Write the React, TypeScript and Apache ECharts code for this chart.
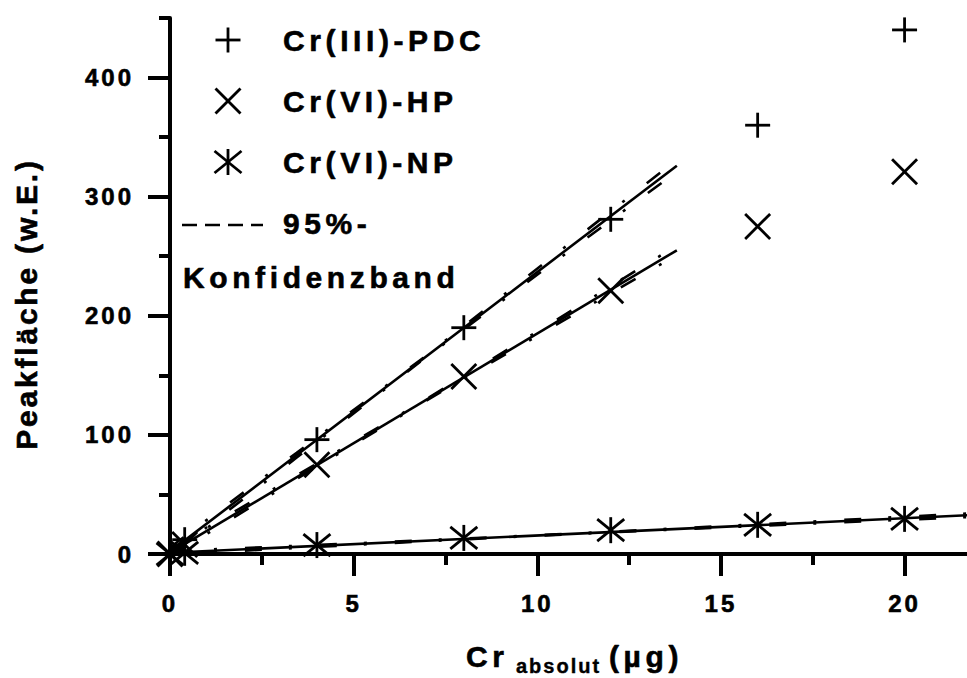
import React, { useEffect, useRef } from 'react';
import * as echarts from 'echarts';

// ---- data ----
const seriesNames = ['Cr(III)-PDC', 'Cr(VI)-HP', 'Cr(VI)-NP'];
const xValues = [0, 0.4, 4, 8, 12, 16, 20];
const pdcValues = [0, 12, 96, 190, 281, 360, 440];
const hpValues = [0, 8, 75, 149, 221, 275, 321];
const npValues = [0, 1, 7.5, 13.5, 20, 24.5, 29.5];

const pdcFitX = [0, 13.8];
const pdcFitY = [2, 326];
const hpFitX = [0, 13.8];
const hpFitY = [1, 255];
const npFitX = [0, 21.7];
const npFitY = [1, 32.5];

const bandXShort = [0, 3.45, 6.9, 10.35, 13.8];
const pdcUpper = [5.5, 85, 164.8, 248, 331];
const pdcLower = [-1.5, 81, 163.5, 242.5, 321];
const hpUpper = [4, 66, 128.6, 193.3, 259];
const hpLower = [-2, 63, 127.4, 189.5, 251];
const bandXLong = [0, 5.4, 10.85, 16.3, 21.7];
const npUpper = [2.4, 9.4, 17.0, 25.4, 34];
const npLower = [-0.4, 8.2, 16.6, 24.0, 31];

const xTicks = [0, 5, 10, 15, 20];
const yTicks = [0, 100, 200, 300, 400];
const bandLabel = ['95%-', 'Konfidenzband'];
const xTitleParts = ['Cr', 'absolut', '(µg)'];
const yTitle = 'Peakfläche (w.E.)';

const FONT = '"Liberation Sans", Arial, Helvetica, sans-serif';
const markerKinds = ['plus', 'cross', 'star'];

const pairs = (xs: number[], ys: number[]) => xs.map((x, i) => [x, ys[i]]);

function markerLines(kind: string, cx: number, cy: number) {
  const segs: number[][] = [];
  if (kind === 'plus') {
    segs.push([0, -12.5, 0, 12.5], [-12.5, 0, 12.5, 0]);
  } else if (kind === 'cross') {
    segs.push([-12.5, -12.5, 12.5, 12.5], [-12.5, 12.5, 12.5, -12.5]);
  } else {
    segs.push([0, -13, 0, 13], [-13.5, -11, 13.5, 11], [-13.5, 11, 13.5, -11]);
  }
  return segs.map((s) => ({
    type: 'line',
    shape: { x1: cx + s[0], y1: cy + s[1], x2: cx + s[2], y2: cy + s[3] },
    style: { stroke: '#000', lineWidth: 2.8 },
  }));
}

function markerSeries(name: string, kind: string, ys: number[]) {
  return {
    type: 'custom',
    name,
    z: 5,
    data: pairs(xValues, ys),
    renderItem: (_p: any, api: any) => {
      const c = api.coord([api.value(0), api.value(1)]);
      return { type: 'group', children: markerLines(kind, c[0], c[1]) };
    },
  };
}

function fitSeries(xs: number[], ys: number[]) {
  return {
    type: 'line',
    data: pairs(xs, ys),
    showSymbol: false,
    symbol: 'none',
    z: 3,
    lineStyle: { color: '#000', width: 2.6 },
  };
}

function bandSeries(xs: number[], ys: number[]) {
  return {
    type: 'line',
    data: pairs(xs, ys),
    showSymbol: false,
    symbol: 'none',
    z: 2,
    lineStyle: { color: '#000', width: 2.6, type: [17, 27, 3, 28] },
  };
}

export default function App() {
  const ref = useRef<HTMLDivElement>(null);
  useEffect(() => {
    if (!ref.current) return;
    const chart = echarts.init(ref.current, undefined, { renderer: 'svg' });
    const labelStyle = {
      color: '#000', fontFamily: FONT, fontWeight: 'bold' as const, fontSize: 24,
      textBorderColor: '#000', textBorderWidth: 0.6,
    };
    const big = `bold 30px ${FONT}`;
    const txt = (text: string, font: string, extra: any = {}) => ({
      text, fill: '#000', font, verticalAlign: 'middle', stroke: '#000', lineWidth: 0.6, ...extra,
    });
    const legendItems = [40, 101, 162];
    const graphic: any[] = [];
    legendItems.forEach((y, i) => {
      graphic.push({ type: 'group', children: markerLines(markerKinds[i], 228, y) });
      graphic.push({ type: 'text', x: 283, y, style: txt(seriesNames[i], big) });
    });
    graphic.push({
      type: 'line', shape: { x1: 182, y1: 225, x2: 263, y2: 225 },
      style: { stroke: '#000', lineWidth: 2.5, lineDash: [15, 8] },
    });
    graphic.push({ type: 'text', x: 283, y: 223, style: txt(bandLabel[0], big) });
    graphic.push({ type: 'text', x: 183, y: 277, style: txt(bandLabel[1], big) });
    graphic.push({ type: 'text', x: 466, y: 656, style: txt(xTitleParts[0], big) });
    graphic.push({ type: 'text', x: 516, y: 666, style: txt(xTitleParts[1], `bold 20px ${FONT}`, { lineWidth: 0.4 }) });
    graphic.push({ type: 'text', x: 609, y: 656, style: txt(xTitleParts[2], big) });
    graphic.push({
      type: 'text', x: 26, y: 304, rotation: Math.PI / 2,
      style: txt(yTitle, big, { align: 'center' }),
    });

    const axisCommon = {
      type: 'value',
      splitLine: { show: false },
      minorSplitLine: { show: false },
      axisLine: { show: true, onZero: false, lineStyle: { color: '#000', width: 4 } },
      minorTick: { show: true, splitNumber: 2, length: 11, lineStyle: { color: '#000', width: 4 } },
    };

    chart.setOption({
      animation: false,
      backgroundColor: '#fff',
      grid: { left: 170, right: 0, top: 18, bottom: 124, containLabel: false, outerBoundsMode: 'none' },
      xAxis: {
        ...axisCommon,
        min: 0,
        max: 21.7,
        interval: 5,
        axisTick: { show: true, length: 22, lineStyle: { color: '#000', width: 4 }, customValues: xTicks },
        axisLabel: { ...labelStyle, margin: 37, customValues: xTicks },
      },
      yAxis: {
        ...axisCommon,
        min: 0,
        max: 450.001,
        interval: 100,
        axisTick: { show: true, length: 22, lineStyle: { color: '#000', width: 4 }, customValues: yTicks },
        axisLabel: { ...labelStyle, margin: 36, customValues: yTicks },
      },
      graphic,
      series: [
        bandSeries(bandXShort, pdcUpper),
        bandSeries(bandXShort, pdcLower),
        bandSeries(bandXShort, hpUpper),
        bandSeries(bandXShort, hpLower),
        bandSeries(bandXLong, npUpper),
        bandSeries(bandXLong, npLower),
        fitSeries(pdcFitX, pdcFitY),
        fitSeries(hpFitX, hpFitY),
        fitSeries(npFitX, npFitY),
        markerSeries(seriesNames[0], 'plus', pdcValues),
        markerSeries(seriesNames[1], 'cross', hpValues),
        markerSeries(seriesNames[2], 'star', npValues),
      ],
    });

    const applySpacing = () => {
      const root = ref.current;
      if (!root) return;
      root.querySelectorAll('text').forEach((t) => {
        const fs = parseFloat(window.getComputedStyle(t).fontSize) || 12;
        let sp = fs >= 26 ? 4.6 : fs >= 22 ? 3 : 2;
        if (t.textContent === yTitle) sp = 2.8;
        (t as SVGTextElement).style.letterSpacing = sp + 'px';
      });
    };
    applySpacing();
    chart.on('finished', applySpacing);

    return () => {
      chart.dispose();
    };
  }, []);
  return (
    <div
      ref={ref}
      style={{ position: 'fixed', left: 0, top: 0, width: 967, height: 678, background: '#fff' }}
    />
  );
}
